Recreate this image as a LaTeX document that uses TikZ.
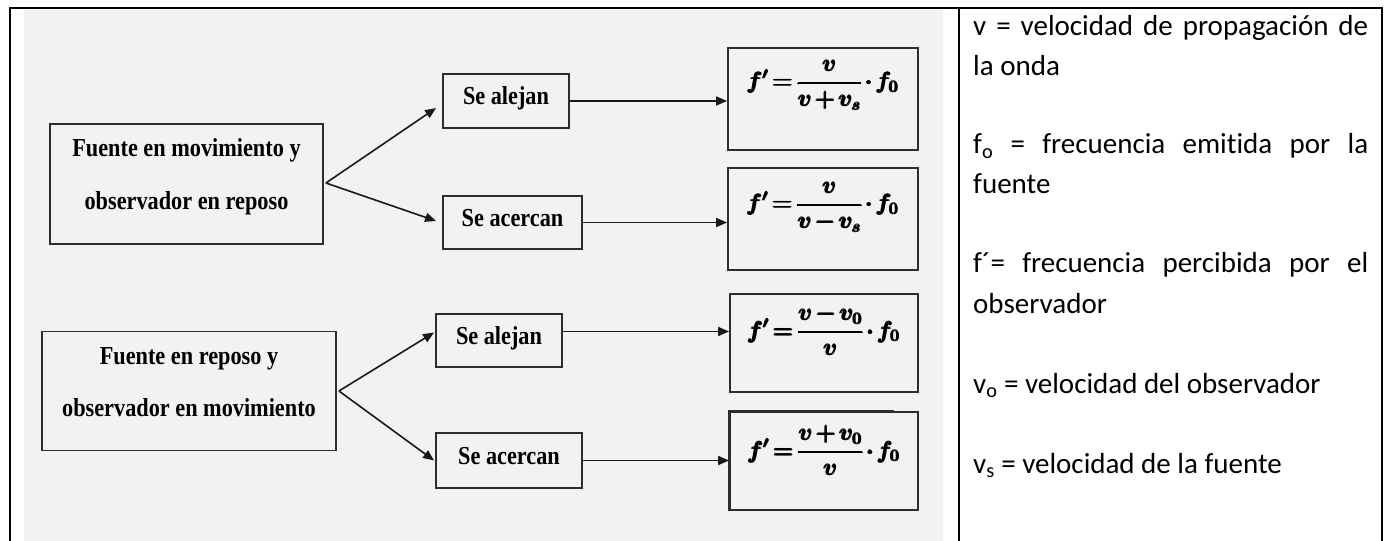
\RequirePackage{fix-cm}
\documentclass[tikz,border=0pt]{standalone}
\usepackage{amsmath}
\usepackage{fontspec}
\usetikzlibrary{arrows.meta,calc}
\newfontfamily\tnrfont[FakeStretch=0.86]{Liberation Serif}
\newfontfamily\carfont[Ligatures={NoCommon}]{Carlito}
\definecolor{bggray}{RGB}{243,242,242}
\definecolor{boxline}{RGB}{45,45,45}
\newcommand{\tighteq}{\thickmuskip=2.5mu\medmuskip=2mu\thinmuskip=2mu}
\newcommand{\heavyeq}[1]{$\displaystyle\pmb{#1}$}
\begin{document}
\begin{tikzpicture}[x=1bp,y=-1bp,
  box/.style={draw=boxline,line width=1.8bp,inner sep=0pt},
  sebox/.style={box,font=\tnrfont\bfseries\fontsize{26}{30}\selectfont,text height=14bp,text depth=6bp},
  lbl/.style={font=\tnrfont\bfseries\fontsize{26}{30}\selectfont,inner sep=0pt,anchor=base},
  eq/.style={font=\fontsize{23.5}{28}\selectfont\boldmath\tighteq,inner sep=0pt,anchor=base},
  leg/.style={font=\carfont\fontsize{29.1}{35}\selectfont,inner sep=0pt,anchor=base west},
  arr/.style={draw=black!90,line width=1.6bp,-{Triangle[length=11bp,width=9bp]}},
  rule/.style={line width=2bp,draw=black}]
\useasboundingbox (0,0) rectangle (1387,541);
% image background
\fill[bggray] (24,10) rectangle (943,541);
% table lines
\draw[rule] (10,8) -- (1382,8);
\draw[rule] (10,7) -- (10,541);
\draw[rule] (959,7) -- (959,541);
\draw[rule] (1382,7) -- (1382,541);

% left boxes
\node[box,minimum width=273bp,minimum height=120bp] (fa) at (186.5,184) {};
\node[lbl] (ta1) at (186.5,157) {Fuente en movimiento y};
\node[lbl] (ta2) at (186.5,210) {observador en reposo};
\node[box,minimum width=294bp,minimum height=119bp] (fb) at (189,391) {};
\node[lbl] (tb1) at (189,364) {Fuente en reposo y};
\node[lbl] (tb2) at (189,416) {observador en movimiento};

% middle boxes
\node[sebox,minimum width=126bp,minimum height=54bp] (sa1) at (506,101) {Se alejan};
\node[sebox,minimum width=139bp,minimum height=53bp] (sc1) at (512.5,222.5) {Se acercan};
\node[sebox,minimum width=126bp,minimum height=53bp] (sa2) at (499,340.5) {Se alejan};
\node[sebox,minimum width=146bp,minimum height=55bp] (sc2) at (509,460.5) {Se acercan};

% formula boxes
\node[box,minimum width=190bp,minimum height=102bp] (f1) at (823,99) {};
\node[box,minimum width=190bp,minimum height=102bp] (f2) at (823,219) {};
\node[box,minimum width=188bp,minimum height=98bp] (f3) at (824,343) {};
\node[box,minimum width=188bp,minimum height=98bp] (f4) at (824,461) {};
\draw[line width=3bp,draw=boxline] (f4.south west) -- (f4.north west) -- ($(f4.north west)+(165,0)$);
\node[eq] (e1) at (823,89) {\heavyeq{f'=\frac{v}{v+v_s}\cdot f_{0}}};
\node[eq] (e2) at (823,211) {\heavyeq{f'=\frac{v}{v-v_s}\cdot f_{0}}};
\node[eq] (e3) at (824,338) {\heavyeq{f'=\frac{v-v_{0}}{v}\cdot f_{0}}};
\node[eq] (e4) at (824,458) {\heavyeq{f'=\frac{v+v_{0}}{v}\cdot f_{0}}};

% arrows
\draw[arr] ($(fa.east)+(2,-1)$) -- ($(sa1.west)+(-6,7)$);
\draw[arr] ($(fa.east)+(2,-1)$) -- ($(sc1.west)+(-6,-1.5)$);
\draw[arr] ($(fb.east)+(2,0)$) -- ($(sa2.west)+(-1,-8)$);
\draw[arr] ($(fb.east)+(2,0)$) -- ($(sc2.west)+(-1,0)$);
\draw[arr] (sa1.east) -- (sa1.east -| f1.west);
\draw[arr] (sc1.east) -- (sc1.east -| f2.west);
\coordinate (o3) at ($(sa2.east)+(0,-9)$);
\draw[arr] (o3) -- (o3 -| f3.west);
\draw[arr] (sc2.east) -- (sc2.east -| f4.west);

% legend
\node[leg] (l1) at (973,36) {\makebox[395bp][s]{v = velocidad de propagación de}};
\node[leg] (l2) at (973,76) {la onda};
\node[leg] (l3) at (973,154) {\makebox[395bp][s]{f\textsubscript{o} = frecuencia emitida por la}};
\node[leg] (l4) at (973,194) {fuente};
\node[leg] (l5) at (973,273) {\makebox[395bp][s]{f´= frecuencia percibida por el}};
\node[leg] (l6) at (973,313) {observador};
\node[leg] (l7) at (973,393) {v\textsubscript{o} = velocidad del observador};
\node[leg] (l8) at (973,473) {v\textsubscript{s} = velocidad de la fuente};
\end{tikzpicture}
\end{document}
